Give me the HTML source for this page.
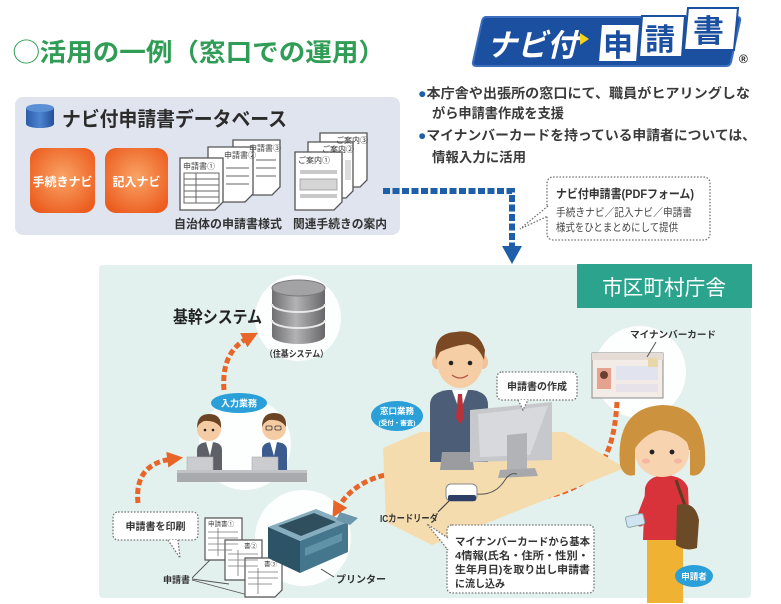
<!DOCTYPE html>
<html><head><meta charset="utf-8">
<style>
html,body{margin:0;padding:0;background:#fff;}
svg{display:block;}
text{font-family:"Liberation Sans","Noto Sans CJK JP",sans-serif;}
</style></head><body>
<svg width="781" height="604" viewBox="0 0 781 604" xmlns="http://www.w3.org/2000/svg">
<defs>
<radialGradient id="og" cx="50%" cy="45%" r="65%"><stop offset="0" stop-color="#f9a466"/><stop offset="1" stop-color="#eb5a1c"/></radialGradient>
<linearGradient id="cyl" x1="0" x2="1"><stop offset="0" stop-color="#6f6f72"/><stop offset=".45" stop-color="#b3b3b6"/><stop offset="1" stop-color="#676769"/></linearGradient>
<linearGradient id="bcyl" x1="0" x2="1"><stop offset="0" stop-color="#2c5ca8"/><stop offset=".5" stop-color="#4d84d0"/><stop offset="1" stop-color="#234f98"/></linearGradient>
<marker id="oa" viewBox="0 0 10 10" refX="3" refY="5" markerWidth="3.2" markerHeight="3.2" orient="auto"><path d="M0,0 L10,5 L0,10 z" fill="#e8652a"/></marker>
</defs>

<!-- Title -->
<text x="13" y="61" font-size="25" font-weight="bold" fill="#2f9d55" textLength="372" lengthAdjust="spacingAndGlyphs">◯活用の一例（窓口での運用）</text>

<!-- Logo -->
<path d="M486,17 L737,17 Q741,17 740,21 L731,62 Q730,66 726,66 L477,66 Q472,66 473,62 L482,21 Q483,17 486,17 Z" fill="#1b4f9f" stroke="#3d6fbf" stroke-width="2"/>
<text x="487" y="56" font-size="31" font-weight="bold" font-style="italic" fill="#fff" textLength="90" lengthAdjust="spacingAndGlyphs">ナビ付</text>
<polygon points="580,33 589,39 580,45" fill="#f2d21c"/>
<polygon points="601,24 640,24 637,62 598,62" fill="#fff" stroke="#1b4f9f" stroke-width="2"/>
<text x="603" y="56" font-size="30" font-weight="bold" fill="#1b4f9f">申</text>
<polygon points="642,16 685,16 682,57 639,57" fill="#fff" stroke="#1b4f9f" stroke-width="2"/>
<text x="645" y="50" font-size="30" font-weight="bold" fill="#1b4f9f">請</text>
<polygon points="688,8 738,8 734,50 684,50" fill="#fff" stroke="#1b4f9f" stroke-width="2"/>
<text x="693" y="42" font-size="31" font-weight="bold" fill="#1b4f9f">書</text>
<text x="739" y="63" font-size="12" font-weight="bold" fill="#222">®</text>

<!-- DB panel -->
<rect x="15" y="97" width="385" height="138" rx="8" fill="#dfe4ef"/>
<path d="M26,108 L26,124 A14,4 0 0 0 54,124 L54,108 Z" fill="url(#bcyl)"/>
<ellipse cx="40" cy="108" rx="14" ry="4" fill="#5b8fd6"/>
<text x="62" y="126" font-size="20" font-weight="bold" fill="#2b2b2b" textLength="225" lengthAdjust="spacingAndGlyphs">ナビ付申請書データベース</text>
<rect x="30" y="148" width="65" height="65" rx="11" fill="url(#og)"/>
<text x="62.5" y="186" font-size="12" font-weight="bold" fill="#fff" text-anchor="middle">手続きナビ</text>
<rect x="105" y="148" width="63" height="65" rx="11" fill="url(#og)"/>
<text x="136.5" y="186" font-size="12" font-weight="bold" fill="#fff" text-anchor="middle">記入ナビ</text>

<!-- application forms stack -->
<g stroke="#555" stroke-width="1.3" fill="#fff">
<polygon points="233,140 280,140 280,187 272,195 233,195"/>
<polygon points="208,147 253,147 253,194 245,202 208,202"/>
<polygon points="180,158 223,158 223,202 215,210 180,210"/>
</g>
<text x="249" y="151" font-size="8" fill="#444">申請書③</text>
<text x="224" y="158" font-size="8" fill="#444">申請書②</text>
<text x="183" y="169" font-size="8" fill="#444">申請書①</text>
<g stroke="#666" stroke-width="1" fill="none">
<rect x="184" y="173" width="35" height="30"/>
<line x1="184" y1="179" x2="219" y2="179"/><line x1="184" y1="185" x2="219" y2="185"/><line x1="184" y1="191" x2="219" y2="191"/><line x1="184" y1="197" x2="219" y2="197"/>
<line x1="196" y1="173" x2="196" y2="203"/>
<line x1="226" y1="168" x2="249" y2="168"/><line x1="226" y1="176" x2="249" y2="176"/><line x1="226" y1="184" x2="249" y2="184"/>
<line x1="256" y1="160" x2="276" y2="160"/><line x1="256" y1="168" x2="276" y2="168"/><line x1="256" y1="176" x2="276" y2="176"/>
</g>
<text x="228" y="228" font-size="12" font-weight="bold" fill="#333" text-anchor="middle" textLength="108" lengthAdjust="spacingAndGlyphs">自治体の申請書様式</text>

<!-- notices -->
<g stroke="#555" stroke-width="1.3" fill="#fff">
<polygon points="320,133 367,133 367,180 360,187 320,187"/>
<polygon points="308,142 353,142 353,191 346,198 308,198"/>
<polygon points="295,152 342,152 342,202 334,210 295,210"/>
</g>
<text x="336" y="143" font-size="8" fill="#333">ご案内③</text>
<text x="322" y="152" font-size="8" fill="#333">ご案内②</text>
<text x="298" y="163" font-size="8" fill="#333">ご案内①</text>
<rect x="300" y="170" width="37" height="4" fill="#c9c9c9"/>
<rect x="300" y="179" width="37" height="11" fill="#d5d5d5" stroke="#999" stroke-width=".8"/>
<rect x="300" y="194" width="37" height="4" fill="#c9c9c9"/>
<rect x="345" y="160" width="6" height="20" fill="#ddd"/>
<text x="340" y="228" font-size="12" font-weight="bold" fill="#333" text-anchor="middle" textLength="94" lengthAdjust="spacingAndGlyphs">関連手続きの案内</text>

<!-- blue dashed arrow -->
<path d="M383,191 H512 V246" fill="none" stroke="#1f5ea8" stroke-width="6" stroke-dasharray="7 2.5"/>
<polygon points="502,246 522,246 512,264" fill="#1f5ea8"/>

<!-- bullets -->
<g font-size="13.5" font-weight="bold" fill="#3a3a3a">
<text x="418" y="98" textLength="332" lengthAdjust="spacingAndGlyphs"><tspan fill="#1f5ea8">●</tspan>本庁舎や出張所の窓口にて、職員がヒアリングしな</text>
<text x="432" y="118" textLength="132" lengthAdjust="spacingAndGlyphs">がら申請書作成を支援</text>
<text x="418" y="140" textLength="338" lengthAdjust="spacingAndGlyphs"><tspan fill="#1f5ea8">●</tspan>マイナンバーカードを持っている申請者については、</text>
<text x="432" y="162" textLength="94" lengthAdjust="spacingAndGlyphs">情報入力に活用</text>
</g>

<!-- PDF callout -->
<rect x="547" y="177" width="163" height="63" rx="6" fill="#fff" stroke="#777" stroke-width="1.3" stroke-dasharray="1.6 1.6"/>
<path d="M548,206 L520,229 L548,216" fill="#fff" stroke="#777" stroke-width="1.3" stroke-dasharray="1.6 1.6"/>
<text x="556" y="198" font-size="12" font-weight="bold" fill="#333" textLength="138" lengthAdjust="spacingAndGlyphs">ナビ付申請書(PDFフォーム)</text>
<text x="556" y="216" font-size="11" fill="#444" textLength="136" lengthAdjust="spacingAndGlyphs">手続きナビ／記入ナビ／申請書</text>
<text x="556" y="231" font-size="11" fill="#444" textLength="122" lengthAdjust="spacingAndGlyphs">様式をひとまとめにして提供</text>

<!-- Teal panel -->
<rect x="99" y="265" width="652" height="333" rx="4" fill="#e3f1ee"/>
<rect x="577" y="264" width="175" height="44" fill="#2ba38d"/>
<text x="664" y="295" font-size="21" fill="#fff" text-anchor="middle" textLength="124" lengthAdjust="spacingAndGlyphs">市区町村庁舎</text>

<!-- white circles -->
<circle cx="298" cy="318" r="43" fill="#fff" opacity=".9"/>
<circle cx="245" cy="444" r="46" fill="#fff" opacity=".9"/>
<circle cx="303" cy="538" r="48" fill="#fff" opacity=".9"/>
<circle cx="640" cy="372" r="46" fill="#fff" opacity=".9"/>

<!-- DB cylinder -->
<g>
<path d="M272,288 V336 A26.5,8 0 0 0 325,336 V288 Z" fill="url(#cyl)"/>
<ellipse cx="298.5" cy="288" rx="26.5" ry="8" fill="#a3a3a6" stroke="#7b7b7e" stroke-width="1"/>
<path d="M272,304 A26.5,8 0 0 0 325,304" fill="none" stroke="#e8e8e8" stroke-width="2"/>
<path d="M272,320 A26.5,8 0 0 0 325,320" fill="none" stroke="#e8e8e8" stroke-width="2"/>
</g>
<text x="173" y="323" font-size="17" font-weight="bold" fill="#222" textLength="89" lengthAdjust="spacingAndGlyphs">基幹システム</text>
<text x="265" y="357" font-size="9" font-weight="bold" fill="#333" textLength="63" lengthAdjust="spacingAndGlyphs">（住基システム）</text>

<!-- orange arrows -->
<g fill="none" stroke="#e8652a" stroke-width="5" stroke-dasharray="6 3">
<path d="M224,390 Q221,352 248,338" marker-end="url(#oa)"/>
<path d="M138,503 Q134,464 172,459" marker-end="url(#oa)"/>
<path d="M438,472 Q362,466 338,508" marker-end="url(#oa)"/>
<path d="M617,402 C613,470 590,500 496,501" marker-end="url(#oa)"/>
</g>

<!-- 入力業務 -->
<ellipse cx="239" cy="403" rx="28" ry="10" fill="#2a9fd8"/>
<text x="239" y="406.5" font-size="9" font-weight="bold" fill="#fff" text-anchor="middle">入力業務</text>

<!-- workers -->
<g>
<path d="M197,470 V450 Q197,442 210,442 Q222,442 222,450 V470 Z" fill="#5d6066"/>
<polygon points="206,442 213,442 210,456" fill="#fff"/>
<circle cx="209" cy="429" r="12" fill="#f5cba3"/>
<path d="M197,428 Q197,414 209,414 Q222,414 221,428 Q216,420 204,421 Q199,423 197,428 Z" fill="#6b4423"/>
<circle cx="205" cy="430" r="1.3" fill="#222"/><circle cx="213" cy="430" r="1.3" fill="#222"/>
<path d="M262,470 V450 Q262,442 274,442 Q287,442 287,450 V470 Z" fill="#3b5b8e"/>
<polygon points="270,442 277,442 274,456" fill="#fff"/>
<circle cx="274" cy="428" r="12" fill="#f5cba3"/>
<path d="M262,427 Q262,413 274,413 Q287,413 286,427 Q281,419 269,420 Q264,422 262,427 Z" fill="#6b4423"/>
<rect x="266" y="426" width="6" height="4" rx="1" fill="none" stroke="#333" stroke-width=".8"/><rect x="275" y="426" width="6" height="4" rx="1" fill="none" stroke="#333" stroke-width=".8"/>
<rect x="187" y="457" width="26" height="20" fill="#cbcccf" stroke="#aaa" stroke-width=".6"/>
<rect x="252" y="457" width="26" height="20" fill="#cbcccf" stroke="#aaa" stroke-width=".6"/>
<rect x="177" y="470" width="130" height="12" fill="#a9aaae"/>
<rect x="177" y="470" width="130" height="3" fill="#c2c3c6"/>
</g>

<!-- 申請書を印刷 callout -->
<rect x="113" y="512" width="85" height="28" rx="5" fill="#fff" stroke="#777" stroke-width="1.3" stroke-dasharray="1.6 1.6"/>
<path d="M168,540 L180,558 L178,540" fill="#fff" stroke="#777" stroke-width="1.3" stroke-dasharray="1.6 1.6"/>
<text x="155.5" y="530" font-size="10" font-weight="bold" fill="#333" text-anchor="middle">申請書を印刷</text>
<text x="163" y="583" font-size="9" font-weight="bold" fill="#333">申請書</text>
<g stroke="#555" stroke-width=".9"><line x1="192" y1="578" x2="210" y2="560"/><line x1="192" y1="579" x2="229" y2="584"/><line x1="192" y1="580" x2="248" y2="595"/></g>

<!-- bottom docs -->
<g stroke="#555" stroke-width="1.2" fill="#fff">
<polygon points="205,518 242,518 242,553 235,560 205,560"/>
<polygon points="225,540 262,540 262,573 255,580 225,580"/>
<polygon points="245,558 282,558 282,590 275,597 245,597"/>
</g>
<g stroke="#777" stroke-width=".8" fill="none">
<line x1="208" y1="532" x2="238" y2="532"/><line x1="208" y1="538" x2="238" y2="538"/><line x1="208" y1="544" x2="238" y2="544"/><line x1="208" y1="550" x2="232" y2="550"/><line x1="218" y1="528" x2="218" y2="556"/>
<line x1="228" y1="554" x2="258" y2="554"/><line x1="228" y1="560" x2="258" y2="560"/><line x1="228" y1="566" x2="258" y2="566"/><line x1="238" y1="550" x2="238" y2="576"/>
<line x1="248" y1="572" x2="278" y2="572"/><line x1="248" y1="578" x2="278" y2="578"/><line x1="248" y1="584" x2="272" y2="584"/><line x1="258" y1="568" x2="258" y2="594"/>
</g>
<text x="208" y="526" font-size="6.5" fill="#444">申請書①</text>
<text x="244" y="548" font-size="6.5" fill="#444">書②</text>
<text x="264" y="566" font-size="6.5" fill="#444">書③</text>

<!-- printer -->
<g>
<polygon points="268,527 316,509 348,522 300,541" fill="#86aebf"/>
<polygon points="278,526 314,513 336,522 301,536" fill="#2f4f5f"/>
<polygon points="268,527 300,541 300,573 268,558" fill="#2c5366"/>
<polygon points="300,541 348,522 348,552 300,573" fill="#44778d"/>
<polygon points="305,548 342,533 342,541 305,556" fill="#5e93a8"/>
<polygon points="340,512 358,518 350,525 336,520" fill="#6c97aa"/>
</g>
<line x1="321" y1="569" x2="334" y2="577" stroke="#444" stroke-width="1"/>
<text x="336" y="583" font-size="10" font-weight="bold" fill="#333">プリンター</text>

<!-- desk tan -->
<polygon points="383,448 420,432 565,432 625,468 432,545 386,522" fill="#f5dcae"/>

<!-- 窓口業務 -->
<ellipse cx="397" cy="416" rx="26" ry="15" fill="#2a9fd8"/>
<text x="397" y="414" font-size="8.5" font-weight="bold" fill="#fff" text-anchor="middle">窓口業務</text>
<text x="397" y="425" font-size="6.5" font-weight="bold" fill="#fff" text-anchor="middle">(受付・審査)</text>

<!-- man -->
<g>
<path d="M430,462 V405 Q430,392 448,390 L472,390 Q488,392 488,405 V462 Z" fill="#4c5e77"/>
<polygon points="452,390 468,390 460,412" fill="#fff"/>
<polygon points="458,394 462,394 464,418 460,424 456,418" fill="#b7323a"/>
<ellipse cx="437" cy="362" rx="5" ry="7" fill="#f2c29a"/>
<ellipse cx="483" cy="362" rx="5" ry="7" fill="#f2c29a"/>
<ellipse cx="460" cy="361" rx="23" ry="27" fill="#f6cea6"/>
<path d="M436,360 Q432,333 456,332 Q478,328 485,350 L484,360 Q478,346 468,344 Q452,346 440,352 Z" fill="#7b4a24"/>
<circle cx="451" cy="363" r="2.3" fill="#222"/><circle cx="470" cy="363" r="2.3" fill="#222"/>
<path d="M452,375 Q460,381 468,375" fill="none" stroke="#b4574a" stroke-width="1.3"/>
<polygon points="442,452 472,452 474,470 440,470" fill="#9a9ca0"/>
<polygon points="470,410 552,402 552,460 470,462" fill="#c7c8cb"/>
<polygon points="478,414 548,406 530,455 480,457" fill="#d8d9dc"/>
<polygon points="507,435 527,433 527,472 507,474" fill="#b2b3b6"/>
<polygon points="500,470 535,468 538,476 498,478" fill="#a7a8ab"/>
</g>

<!-- 申請書の作成 callout -->
<rect x="497" y="372" width="80" height="28" rx="5" fill="#fff" stroke="#777" stroke-width="1.3" stroke-dasharray="1.6 1.6"/>
<path d="M518,400 L523,410 L528,400" fill="#fff" stroke="#777" stroke-width="1.3" stroke-dasharray="1.6 1.6"/>
<text x="537" y="390" font-size="10" font-weight="bold" fill="#333" text-anchor="middle">申請書の作成</text>

<!-- IC reader -->
<path d="M476,494 Q495,496 505,480 Q510,472 517,474" fill="none" stroke="#555" stroke-width="1"/>
<rect x="446" y="484" width="31" height="17" rx="5" fill="#fff" stroke="#888" stroke-width="1"/>
<rect x="448" y="495" width="28" height="6" rx="2" fill="#2d3f66"/>
<line x1="449" y1="501" x2="438" y2="512" stroke="#444" stroke-width="1.2"/>
<text x="380" y="522" font-size="10" font-weight="bold" fill="#333" textLength="58" lengthAdjust="spacingAndGlyphs">ICカードリーダ</text>

<!-- big callout -->
<rect x="447" y="525" width="147" height="68" rx="5" fill="#fff" stroke="#777" stroke-width="1.3" stroke-dasharray="1.6 1.6"/>
<path d="M448,538 L427,524 L448,550" fill="#fff" stroke="#777" stroke-width="1.3" stroke-dasharray="1.6 1.6"/>
<g font-size="10.5" font-weight="bold" fill="#333">
<text x="455" y="545" textLength="135" lengthAdjust="spacingAndGlyphs">マイナンバーカードから基本</text>
<text x="455" y="559" textLength="134" lengthAdjust="spacingAndGlyphs">4情報(氏名・住所・性別・</text>
<text x="455" y="573" textLength="135" lengthAdjust="spacingAndGlyphs">生年月日)を取り出し申請書</text>
<text x="455" y="587" textLength="50" lengthAdjust="spacingAndGlyphs">に流し込み</text>
</g>

<!-- My Number card -->
<rect x="592" y="353" width="71" height="45" fill="#f3ebe6" stroke="#8a8a8a" stroke-width="1"/>
<rect x="592" y="353" width="71" height="7" fill="#e6dcd6"/>
<rect x="597" y="368" width="14" height="21" fill="#e5a38f"/>
<circle cx="604" cy="375" r="4" fill="#6b3f2d"/>
<rect x="616" y="366" width="42" height="14" fill="#e1e3ee"/>
<rect x="616" y="384" width="42" height="8" fill="#e7e2ea"/>
<rect x="648" y="358" width="10" height="9" fill="#e8d7a8"/>
<line x1="656" y1="342" x2="647" y2="357" stroke="#555" stroke-width="1"/>
<text x="630" y="338" font-size="9.5" font-weight="bold" fill="#333" textLength="86" lengthAdjust="spacingAndGlyphs">マイナンバーカード</text>

<!-- woman -->
<g>
<rect x="647" y="540" width="36" height="63" fill="#f0b232"/>
<path d="M643,540 L645,488 Q648,476 665,475 Q684,476 688,488 L690,540 Z" fill="#d8333b"/>
<path d="M650,495 Q640,520 640,522" fill="none" stroke="#d8333b" stroke-width="9" stroke-linecap="round"/>
<rect x="626" y="515" width="18" height="11" rx="2" fill="#cfe3f1" stroke="#8aa" stroke-width="1" transform="rotate(-12 635 520)"/>
<path d="M676,480 L690,520" stroke="#5b3d22" stroke-width="3"/>
<path d="M677,505 Q695,500 699,520 L697,548 Q686,552 676,545 Z" fill="#6b4a28"/>
<path d="M620,465 Q615,408 662,405 Q708,405 705,465 Q700,478 690,475 L690,450 L635,450 L635,475 Q624,478 620,465 Z" fill="#cc923e"/>
<ellipse cx="662" cy="452" rx="27" ry="25" fill="#f7d3b0"/>
<path d="M634,450 Q640,420 665,420 Q688,422 692,448 Q680,432 660,430 Q644,434 634,450 Z" fill="#cc923e"/>
<circle cx="652" cy="452" r="2.4" fill="#222"/><circle cx="672" cy="452" r="2.4" fill="#222"/>
<ellipse cx="646" cy="461" rx="4" ry="2.5" fill="#f3a9a0" opacity=".7"/><ellipse cx="678" cy="461" rx="4" ry="2.5" fill="#f3a9a0" opacity=".7"/>
</g>
<ellipse cx="694" cy="576" rx="19" ry="11" fill="#2a9fd8"/>
<text x="694" y="579.5" font-size="8.5" font-weight="bold" fill="#fff" text-anchor="middle">申請者</text>

</svg>
</body></html>
